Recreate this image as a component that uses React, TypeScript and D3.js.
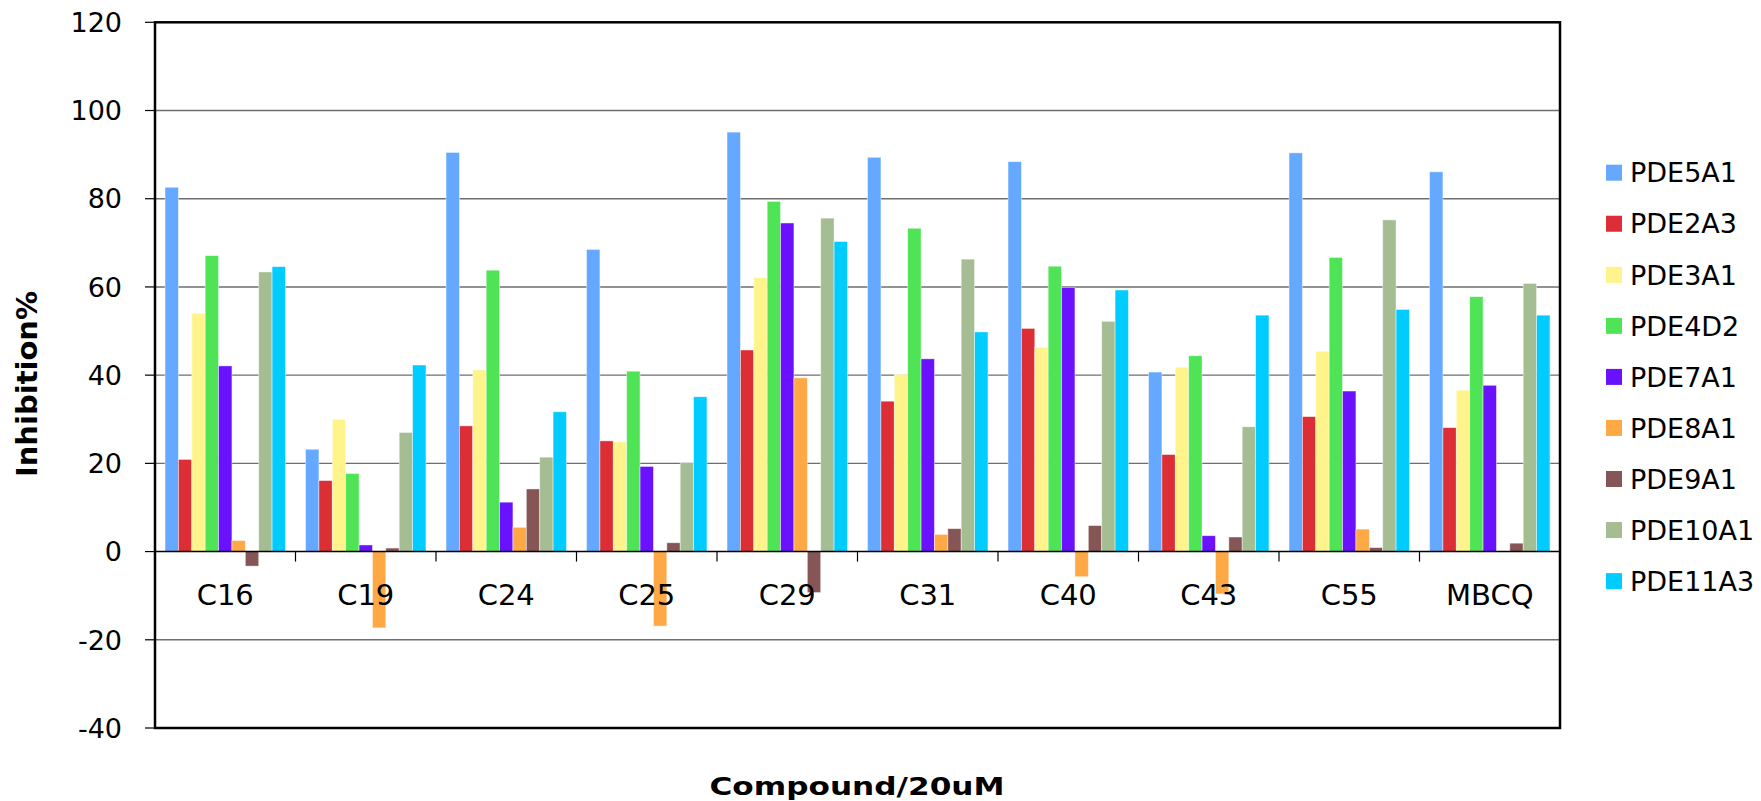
import React from "react";
import * as d3 from "d3";

const categories = ["C16", "C19", "C24", "C25", "C29", "C31", "C40", "C43", "C55", "MBCQ"];
const seriesNames = ["PDE5A1", "PDE2A3", "PDE3A1", "PDE4D2", "PDE7A1", "PDE8A1", "PDE9A1", "PDE10A1", "PDE11A3"];
const seriesColors = ["#64A8FF", "#DC2E35", "#FFF48B", "#4FE456", "#6A12FF", "#FFA846", "#865556", "#A4BD92", "#00CCFF"];

const PDE5A1 = [82.6, 23.2, 90.5, 68.5, 95.1, 89.4, 88.4, 40.7, 90.4, 86.1];
const PDE2A3 = [20.9, 16.1, 28.5, 25.1, 45.7, 34.1, 50.6, 22.0, 30.6, 28.1];
const PDE3A1 = [54.0, 30.0, 41.2, 24.9, 62.1, 40.2, 46.3, 41.8, 45.4, 36.6];
const PDE4D2 = [67.1, 17.7, 63.8, 40.9, 79.4, 73.3, 64.7, 44.4, 66.7, 57.8];
const PDE7A1 = [42.1, 1.5, 11.2, 19.3, 74.5, 43.7, 59.9, 3.6, 36.4, 37.7];
const PDE8A1 = [2.5, -17.3, 5.5, -16.9, 39.4, 3.9, -5.7, -9.6, 5.1, 0];
const PDE9A1 = [-3.3, 0.8, 14.2, 2.0, -9.3, 5.2, 5.9, 3.3, 0.9, 1.9];
const PDE10A1 = [63.4, 27.0, 21.4, 20.2, 75.6, 66.3, 52.2, 28.3, 75.2, 60.8];
const PDE11A3 = [64.6, 42.3, 31.7, 35.1, 70.3, 49.8, 59.3, 53.6, 54.9, 53.6];

const seriesValues = [PDE5A1, PDE2A3, PDE3A1, PDE4D2, PDE7A1, PDE8A1, PDE9A1, PDE10A1, PDE11A3];
const yTicks = [-40, -20, 0, 20, 40, 60, 80, 100, 120];

const W = 1761;
const H = 801;
const left = 155;
const right = 1560;
const top = 22.3;
const bottom = 728;
const FONT = "DejaVu Sans, Verdana, sans-serif";

export default function App() {
  const x = d3.scaleBand<string>().domain(categories).range([left, right]).paddingInner(0).paddingOuter(0);
  // Excel gap width 150%: group = 9 bars + 1.5 bar of gap
  const bw = x.bandwidth() / 10.5;
  const groupOffset = 0.75 * bw;
  const y = d3.scaleLinear().domain([-40, 120]).range([bottom, top]);
  const y0 = y(0);

  return (
    <svg width={W} height={H} style={{ position: "absolute", left: 0, top: 0, background: "#fff" }}>
      <rect x={0} y={0} width={W} height={H} fill="#fff" />
      {yTicks.map((t) =>
        t === 120 || t === -40 || t === 0 ? null : (
          <line key={"g" + t} x1={left} x2={right} y1={y(t)} y2={y(t)} stroke="#6e6e6e" strokeWidth={1.4} />
        )
      )}
      {categories.map((c, ci) =>
        seriesNames.map((s, si) => {
          const v = seriesValues[si][ci];
          if (v === 0) return null;
          const bx = (x(c) as number) + groupOffset + si * bw;
          const yv = y(v);
          return (
            <rect
              key={c + s}
              x={bx}
              y={Math.min(yv, y0)}
              width={bw}
              height={Math.abs(yv - y0)}
              fill={seriesColors[si]}
              stroke="rgba(255,255,255,0.55)"
              strokeWidth={0.8}
            />
          );
        })
      )}
      <line x1={left} x2={right} y1={y0} y2={y0} stroke="#000" strokeWidth={1.5} />
      {categories.slice(1).map((c) => (
        <line key={"ct" + c} x1={x(c) as number} x2={x(c) as number} y1={y0} y2={y0 + 10} stroke="#000" strokeWidth={1.2} />
      ))}
      <rect x={left} y={top} width={right - left} height={bottom - top} fill="none" stroke="#000" strokeWidth={2.5} />
      {yTicks.map((t) => (
        <g key={"yt" + t}>
          <line x1={left - 10} x2={left} y1={y(t)} y2={y(t)} stroke="#000" strokeWidth={1.2} />
          <text x={122} y={y(t)} dy="0.36em" textAnchor="end" fontFamily={FONT} fontSize={27} fill="#000">
            {t}
          </text>
        </g>
      ))}
      {categories.map((c) => (
        <text
          key={"cl" + c}
          x={(x(c) as number) + x.bandwidth() / 2}
          y={605}
          textAnchor="middle"
          fontFamily={FONT}
          fontSize={29}
          fill="#000"
        >
          {c}
        </text>
      ))}
      <text
        transform={`translate(37,384) rotate(-90)`}
        textAnchor="middle"
        fontFamily={FONT}
        fontWeight="bold"
        fontSize={29}
        fill="#000"
      >
        Inhibition%
      </text>
      <text
        x={857}
        y={795}
        textAnchor="middle"
        fontFamily={FONT}
        fontWeight="bold"
        fontSize={25}
        textLength={295}
        lengthAdjust="spacingAndGlyphs"
        fill="#000"
      >
        Compound/20uM
      </text>
      {seriesNames.map((s, i) => {
        const cy = 172.7 + i * 51.05;
        return (
          <g key={"lg" + s}>
            <rect x={1606} y={cy - 8} width={16} height={16} fill={seriesColors[i]} />
            <text x={1630} y={cy} dy="0.36em" fontFamily={FONT} fontSize={27} fill="#000">
              {s}
            </text>
          </g>
        );
      })}
    </svg>
  );
}
